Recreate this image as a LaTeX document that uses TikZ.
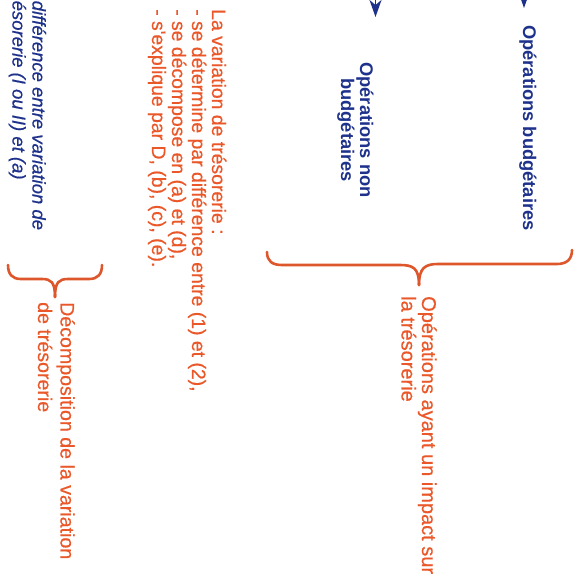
\documentclass[tikz,border=0pt]{standalone}
\usepackage{fontspec}
\setmainfont{Liberation Sans}
\newfontfamily\medfont[FakeBold=0.5]{Liberation Sans}
\usetikzlibrary{arrows.meta}
\definecolor{navy}{RGB}{30,50,140}
\definecolor{orng}{RGB}{234,88,42}
\definecolor{brc}{RGB}{222,86,44}
\begin{document}
\begin{tikzpicture}[x=1pt,y=-1pt,
  rtxt/.style={inner sep=0pt,rotate=-90,anchor=base west,align=left},
  bluebold/.style={rtxt,text=navy,font=\fontsize{18.3}{19}\selectfont\bfseries},
  blueit/.style={rtxt,text=navy,font=\medfont\fontsize{18.5}{20}\selectfont\itshape},
  orgtxt/.style={rtxt,text=orng,font=\medfont\fontsize{19.4}{20}\selectfont},
  bracestyle/.style={draw=brc,line width=2.6pt,line cap=round,line join=round},
  arr/.style={draw=navy,line width=1.6pt,-{Stealth[length=17pt,width=12pt,inset=5pt]}}]
\useasboundingbox (0,0) rectangle (580,583);
\clip (0,0) rectangle (580,583);
\fill[white] (0,0) rectangle (580,583);

% texts (base anchor = baseline of the last line)
\node[bluebold] (ob) at (523,25) {Opérations budgétaires};
\node[bluebold,anchor=base,align=center] (onb) at (341,130) {Opérations non\\budgétaires};
\node[blueit] (dv) at (12.5,0.5) {différence entre variation de\\ésorerie (I ou II) et (a)};
\node[orgtxt] (vt) at (152,9) {La variation de trésorerie :\\- se détermine par différence entre (1) et (2),\\- se décompose en (a) et (d),\\- s'explique par D, (b), (c), (e).};
\node[orgtxt,font=\medfont\fontsize{20}{20.5}\selectfont] (oi) at (401.5,296) {Opérations ayant un impact sur\\la trésorerie};
\node[orgtxt,font=\medfont\fontsize{19.6}{22.5}\selectfont] (dc) at (38,302) {Décomposition de la variation\\de trésorerie};

% arrows entering from the top
\coordinate (a1s) at (375.5,-20);
\coordinate (a1e) at (375.5,17);
\coordinate (a2s) at (524,-30);
\coordinate (a2e) at (524,8);
\draw[arr] (a1s) -- (a1e);
\draw[arr] (a2s) -- (a2e);

% big brace
\coordinate (bt) at (419,285);
\draw[bracestyle] (267,252) .. controls (267,261) and (272,265) .. (282,265) -- (400,265)
  .. controls (413,265) and (419,268) .. (bt);
\draw[bracestyle] (572,250) .. controls (572,259) and (567,264) .. (557,264) -- (438,264)
  .. controls (425,264) and (419,268) .. (bt);

% small brace
\coordinate (st) at (55,297);
\draw[bracestyle] (8,265) .. controls (8,274) and (12,279) .. (21,279) -- (42,279)
  .. controls (51,279) and (55,282) .. (st);
\draw[bracestyle] (102,265) .. controls (102,274) and (98,279) .. (89,279) -- (68,279)
  .. controls (59,279) and (55,282) .. (st);
\end{tikzpicture}
\end{document}
